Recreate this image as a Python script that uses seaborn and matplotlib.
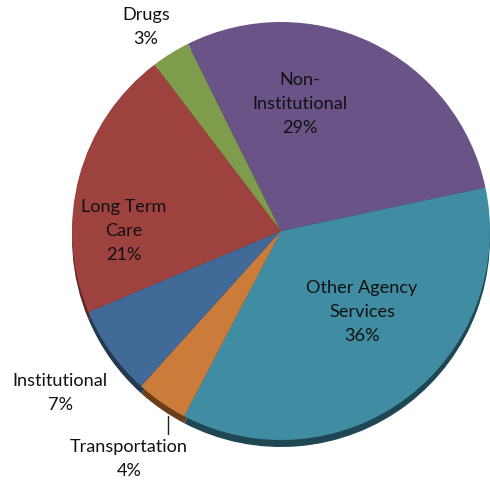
import matplotlib
matplotlib.use("Agg")
import matplotlib.pyplot as plt
import seaborn as sns

# Budget shares by category (percent), clockwise order
categories = ["Institutional", "Long Term Care", "Drugs", "Non-Institutional",
              "Other Agency Services", "Transportation"]
shares = [7, 21, 3, 29, 36, 4]
label_text = ["Institutional\n7%", "Long Term\nCare\n21%", "Drugs\n3%",
              "Non-\nInstitutional\n29%", "Other Agency\nServices\n36%",
              "Transportation\n4%"]

face_colors = ["#426A98", "#9E4240", "#7F9B4C", "#6A5386", "#3F8CA3", "#CC7C3A"]
side_colors = ["#24394F", "#5A2524", "#4A5A2C", "#3D3050", "#1E4753", "#6A3E1A"]

# label anchor points in pixel coordinates (x right, y down)
label_xy = [(60, 393), (124, 231), (146, 27), (300, 104), (362, 312), (129, 459)]

sns.set_theme(style="white")
plt.rcParams["font.family"] = ["Lato", "DejaVu Sans"]

W, H = 490, 482
fig = plt.figure(figsize=(W / 100, H / 100), dpi=100)
ax = fig.add_axes([0, 0, 1, 1])

cx, cy, r = 281, H - 231, 209
start = -132.0

# darker copy underneath gives the raised edge along the bottom rim
ax.pie(shares, colors=side_colors, startangle=start, counterclock=False,
       radius=r, center=(cx, cy - 7), frame=True,
       wedgeprops=dict(linewidth=0))
ax.pie(shares, colors=face_colors, startangle=start, counterclock=False,
       radius=r, center=(cx, cy), frame=True,
       wedgeprops=dict(linewidth=0))
ax.set_xlim(0, W)
ax.set_ylim(0, H)
ax.axis("off")

for txt, (x, y) in zip(label_text, label_xy):
    ax.text(x, H - y, txt, ha="center", va="center", fontsize=13.1,
            color="#111111", linespacing=1.62)

# leader line for the small Transportation slice
ax.plot([168, 168], [H - 416, H - 434], color="#222222", lw=1)

fig.savefig("out.png", dpi=100)
